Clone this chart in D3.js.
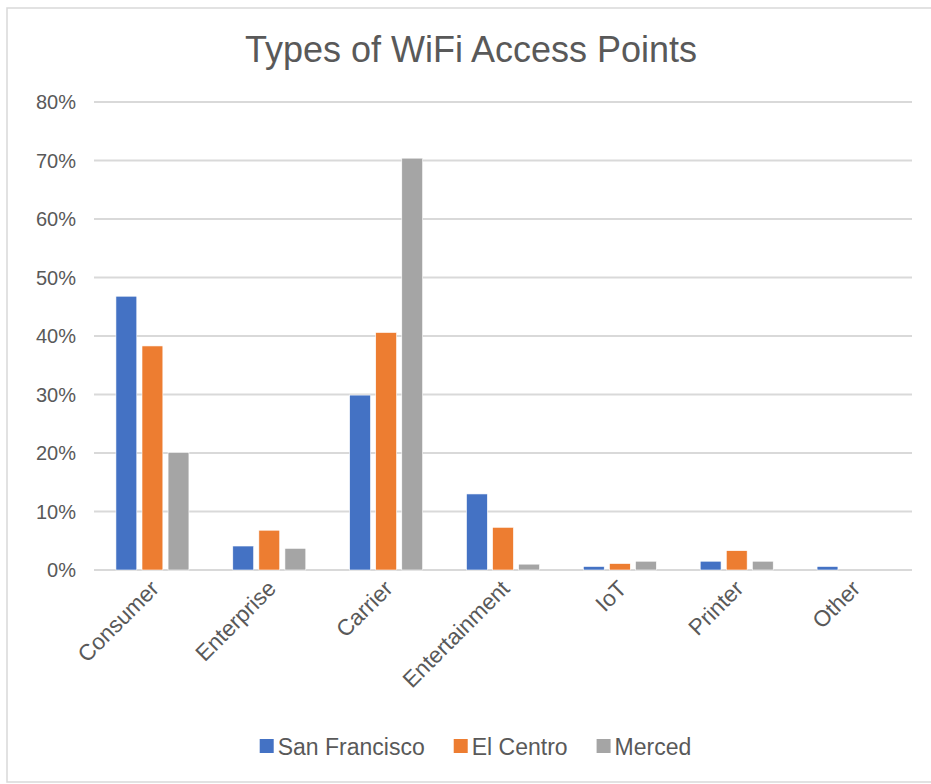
<!DOCTYPE html>
<html>
<head>
<meta charset="utf-8">
<script src="https://cdn.jsdelivr.net/npm/d3@7"></script>
<style>
  html, body { margin: 0; padding: 0; background: #fff; }
  text { font-family: "Liberation Sans", Arial, Helvetica, sans-serif; fill: #595959; }
</style>
</head>
<body>
<svg id="chart" width="931" height="784"></svg>
<script>
// Share of access points by type, per city (percent)
const categories = ["Consumer", "Enterprise", "Carrier", "Entertainment", "IoT", "Printer", "Other"];
const seriesNames = ["San Francisco", "El Centro", "Merced"];
const sanFrancisco = [46.8, 4.1, 29.9, 13.0, 0.6, 1.5, 0.6];
const elCentro     = [38.3, 6.8, 40.6, 7.3, 1.1, 3.3, 0.0];
const merced       = [20.1, 3.7, 70.4, 1.0, 1.5, 1.5, 0.0];
const yTicks = [0, 10, 20, 30, 40, 50, 60, 70, 80];
const colors = ["#4472C4", "#ED7D31", "#A5A5A5"];
const title = "Types of WiFi Access Points";

const seriesValues = [sanFrancisco, elCentro, merced];

const svg = d3.select("#chart");

// chart frame
svg.append("rect")
  .attr("x", 7).attr("y", 8)
  .attr("width", 940).attr("height", 774)
  .attr("fill", "#fff")
  .attr("stroke", "#d9d9d9")
  .attr("stroke-width", 1.5);

const plot = { left: 94, right: 912, top: 102, bottom: 570 };

const x = d3.scaleBand().domain(categories).range([plot.left, plot.right]);
const groupHalf = 36.5;
const x1 = d3.scaleBand().domain(seriesNames)
  .range([x.bandwidth() / 2 - groupHalf, x.bandwidth() / 2 + groupHalf])
  .paddingInner(0.2);
const y = d3.scaleLinear().domain([0, 80]).range([plot.bottom, plot.top]);

// gridlines
svg.append("g").selectAll("line").data(yTicks).join("line")
  .attr("x1", plot.left).attr("x2", plot.right)
  .attr("y1", d => y(d)).attr("y2", d => y(d))
  .attr("stroke", "#d9d9d9")
  .attr("stroke-width", 2);

// y tick labels
svg.append("g").selectAll("text").data(yTicks).join("text")
  .attr("x", 76).attr("y", d => y(d))
  .attr("dy", "0.36em")
  .attr("text-anchor", "end")
  .attr("font-size", 20)
  .text(d => d + "%");

// bars
const groups = svg.append("g").selectAll("g").data(categories).join("g")
  .attr("transform", c => `translate(${x(c)},0)`);
groups.selectAll("rect")
  .data((c, i) => seriesNames.map((s, k) => ({ s, k, v: seriesValues[k][i] })))
  .join("rect")
  .filter(d => d.v > 0)
  .attr("x", d => x1(d.s))
  .attr("width", x1.bandwidth())
  .attr("y", d => y(d.v))
  .attr("height", d => y(0) - y(d.v))
  .attr("fill", d => colors[d.k])
  .attr("stroke", "#fff")
  .attr("stroke-width", 0.6);

// category labels
svg.append("g").selectAll("text").data(categories).join("text")
  .attr("transform", c => `translate(${x(c) + x.bandwidth() / 2 + 8},${plot.bottom + 20}) rotate(-45)`)
  .attr("text-anchor", "end")
  .attr("font-size", 22.5)
  .text(c => c);

// title
svg.append("text")
  .attr("x", 471).attr("y", 62)
  .attr("text-anchor", "middle")
  .attr("font-size", 36)
  .text(title);

// legend
const legend = svg.append("g");
const items = legend.selectAll("g").data(seriesNames).join("g");
items.append("rect")
  .attr("width", 14).attr("height", 14)
  .attr("y", -8)
  .attr("fill", (d, i) => colors[i]);
items.append("text")
  .attr("x", 18).attr("dy", "0.36em")
  .attr("font-size", 23)
  .text(d => d);
let cursor = 0;
const gap = 29;
items.each(function () {
  const w = this.getBBox().width;
  d3.select(this).attr("transform", `translate(${cursor},0)`);
  cursor += w + gap;
});
const total = cursor - gap;
legend.attr("transform", `translate(${475.5 - total / 2},747)`);
</script>
</body>
</html>
